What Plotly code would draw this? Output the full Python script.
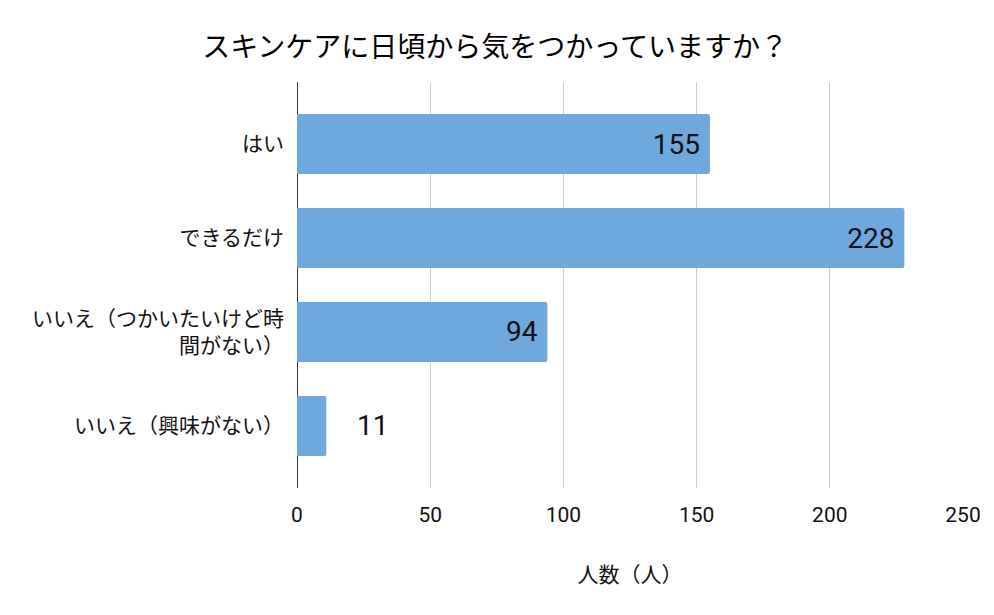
import plotly.graph_objects as go

categories = ["はい", "できるだけ", "いいえ（つかいたいけど時<br>間がない）", "いいえ（興味がない）"]
values = [155, 228, 94, 11]
x_ticks = [0, 50, 100, 150, 200, 250]

NB = "\u00a0"
THIN = "\u2009"
texts = []
positions = []
for v in values:
    if v > 30:
        texts.append(f"{v}{NB}")
        positions.append("inside")
    else:
        texts.append(f"{NB*4}{v}")
        positions.append("outside")

fig = go.Figure(
    go.Bar(
        x=values,
        y=categories,
        orientation="h",
        width=0.64,
        marker=dict(color="#6fa8dc", cornerradius=2, line=dict(width=0)),
        text=texts,
        textposition=positions,
        insidetextanchor="end",
        textfont=dict(size=28, color="#111111", family="Roboto, 'Noto Sans CJK JP'"),
        cliponaxis=False,
    )
)

fig.update_layout(
    width=994,
    height=615,
    margin=dict(l=289, r=39, t=74, b=135),
    paper_bgcolor="white",
    plot_bgcolor="white",
    font=dict(family="Roboto, 'Noto Sans CJK JP', sans-serif", color="#1a1a1a"),
    title=dict(
        text="スキンケアに日頃から気をつかっていますか？",
        x=0.49,
        xanchor="center",
        y=0.9366,
        yanchor="middle",
        font=dict(size=28, family="'Noto Sans CJK JP', sans-serif", color="#000000"),
    ),
    showlegend=False,
    uniformtext=dict(mode=False),
)

fig.update_xaxes(
    range=[0, 250],
    tickvals=x_ticks,
    ticktext=[str(t) for t in x_ticks],
    showgrid=True,
    gridcolor="#cccccc",
    gridwidth=1,
    zeroline=True,
    zerolinecolor="#333333",
    zerolinewidth=1,
    showline=False,
    ticks="",
    ticklabelstandoff=12,
    tickfont=dict(size=21, family="Roboto, sans-serif", color="#111111"),
    title=dict(text="人数（人）", font=dict(size=21, family="'Noto Sans CJK JP', sans-serif", color="#111111"), standoff=41),
)

fig.update_yaxes(
    categoryorder="array",
    categoryarray=categories,
    range=[3.66, -0.66],
    showgrid=False,
    zeroline=False,
    showline=False,
    ticks="",
    ticklabelstandoff=12,
    tickfont=dict(size=21, family="'Noto Sans CJK JP', sans-serif", color="#111111"),
)

fig.write_html("out.html")
